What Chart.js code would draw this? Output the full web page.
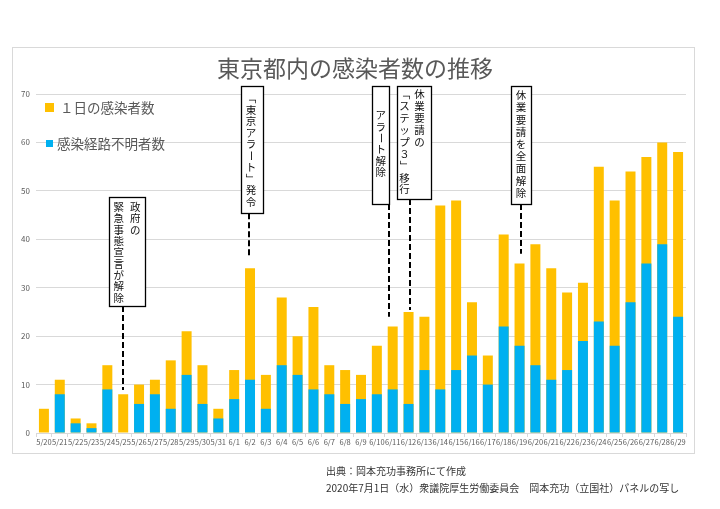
<!DOCTYPE html>
<html>
<head>
<meta charset="utf-8">
<script src="https://cdn.jsdelivr.net/npm/chart.js@4/dist/chart.umd.min.js"></script>
<style>
  body { margin: 0; background: #fff; }
  #wrap { width: 720px; height: 509px; }
</style>
</head>
<body>
<div id="wrap"><canvas id="chart" width="720" height="509"></canvas></div>
<script>
// dates 5/20 - 6/29
const dates = [
  "5/20", "5/21", "5/22", "5/23", "5/24", "5/25", "5/26", "5/27", "5/28", "5/29", "5/30", "5/31",
  "6/1", "6/2", "6/3", "6/4", "6/5", "6/6", "6/7", "6/8", "6/9", "6/10", "6/11", "6/12", "6/13",
  "6/14", "6/15", "6/16", "6/17", "6/18", "6/19", "6/20", "6/21", "6/22", "6/23", "6/24", "6/25",
  "6/26", "6/27", "6/28", "6/29"
];
// 1日の感染者数
const dailyCases = [
  5, 11, 3, 2, 14, 8, 10, 11, 15, 21, 14, 5,
  13, 34, 12, 28, 20, 26, 14, 13, 12, 18, 22, 25, 24,
  47, 48, 27, 16, 41, 35, 39, 34, 29, 31, 55, 48,
  54, 57, 60, 58
];
// 感染経路不明者数
const unknownRoute = [
  0, 8, 2, 1, 9, 0, 6, 8, 5, 12, 6, 3,
  7, 11, 5, 14, 12, 9, 8, 6, 7, 8, 9, 6, 13,
  9, 13, 16, 10, 22, 18, 14, 11, 13, 19, 23, 18,
  27, 35, 39, 24
];
const yTicks = [0, 10, 20, 30, 40, 50, 60, 70];

const seriesNames = ["１日の感染者数", "感染経路不明者数"];
const titleText = "東京都内の感染者数の推移";
const sourceLines = [
  "出典：岡本充功事務所にて作成",
  "2020年7月1日（水）衆議院厚生労働委員会　岡本充功（立国社）パネルの写し"
];

// callouts: text columns are listed right to left
const notes = [
  { at: "5/25", cols: ["政府の", "緊急事態宣言が解除"] },
  { at: "6/2", cols: ["「東京アラート」発令"] },
  { at: "6/11", cols: ["アラート解除"] },
  { at: "6/12", cols: ["休業要請の", "「ステップ３」移行"] },
  { at: "6/19", cols: ["休業要請を全面解除"] }
];
// box geometry for each callout (px offsets from bar centre, y in axis units)
const noteLayout = [
  { box: [-14, 22], top: 48.7, bottom: 26.2, colX: [12, -4.5], textTop: 10, pitch: 11.3, lineX: 0, lineEnd: 8.9 },
  { box: [-9, 13], top: 71.6, bottom: 45.4, colX: [1], textTop: 12, pitch: 11.5, lineX: -1, lineEnd: 36.1 },
  { box: [-20.5, -3.5], top: 71.6, bottom: 47.3, colX: [-12], textTop: 29, pitch: 11.4, lineX: -4, lineEnd: 24 },
  { box: [-12, 22], top: 71.6, bottom: 48.3, colX: [11, -4], textTop: 8, pitch: 11.9, lineX: 1, lineEnd: 25.4 },
  { box: [-8.5, 11.5], top: 71.6, bottom: 47.3, colX: [1.5], textTop: 9, pitch: 12.2, lineX: 1.5, lineEnd: 37 }
];

const ORANGE = "#FFC000";
const BLUE = "#00B0F0";
const GREY = "#595959";
const FONT = "'Noto Sans CJK JP', 'Noto Sans', sans-serif";

function drawVertical(ctx, text, x, y, pitch) {
  for (const ch of text) {
    if ("ー「」".includes(ch)) {
      ctx.save();
      ctx.translate(x, y);
      ctx.rotate(Math.PI / 2);
      ctx.fillText(ch, 0, 0);
      ctx.restore();
    } else {
      ctx.fillText(ch, x, y);
    }
    y += pitch;
  }
}

const decor = {
  id: "decor",
  beforeDraw(chart) {
    const ctx = chart.ctx;
    ctx.save();
    ctx.fillStyle = "#fff";
    ctx.fillRect(0, 0, chart.width, chart.height);
    ctx.strokeStyle = "#d9d9d9";
    ctx.lineWidth = 1;
    ctx.strokeRect(12.5, 47.5, 682, 406);
    ctx.restore();
  },
  afterDraw(chart) {
    const ctx = chart.ctx;
    const xs = chart.scales.x, ys = chart.scales.y;
    ctx.save();

    // title
    ctx.fillStyle = GREY;
    ctx.font = "23px " + FONT;
    ctx.textAlign = "center";
    ctx.textBaseline = "middle";
    ctx.fillText(titleText, 355, 68);

    // legend
    ctx.textAlign = "left";
    ctx.font = "13.5px " + FONT;
    ctx.fillStyle = ORANGE;
    ctx.fillRect(45, 103, 9, 9);
    ctx.fillStyle = GREY;
    ctx.fillText(seriesNames[0], 60, 108);
    ctx.fillStyle = BLUE;
    ctx.fillRect(46, 140, 7, 7);
    ctx.fillStyle = GREY;
    ctx.fillText(seriesNames[1], 57, 144);

    // callouts
    notes.forEach((n, i) => {
      const L = noteLayout[i];
      const cx = xs.getPixelForValue(dates.indexOf(n.at));
      const top = ys.getPixelForValue(L.top);
      const bot = ys.getPixelForValue(L.bottom);
      const lx = Math.round(cx + L.lineX);
      ctx.setLineDash([6, 3]);
      ctx.strokeStyle = "#000";
      ctx.lineWidth = 2;
      ctx.beginPath();
      ctx.moveTo(lx, bot);
      ctx.lineTo(lx, ys.getPixelForValue(L.lineEnd));
      ctx.stroke();
      ctx.setLineDash([]);
      const x0 = Math.round(cx + L.box[0]) + 0.5, x1 = Math.round(cx + L.box[1]) + 0.5;
      ctx.fillStyle = "#fff";
      ctx.fillRect(x0, top, x1 - x0, bot - top);
      ctx.lineWidth = 1.3;
      ctx.strokeRect(x0, Math.round(top) + 0.5, x1 - x0, Math.round(bot - top));
      ctx.fillStyle = "#111";
      ctx.font = "10.5px " + FONT;
      ctx.textAlign = "center";
      ctx.textBaseline = "middle";
      n.cols.forEach((col, k) => {
        drawVertical(ctx, col, cx + L.colX[k], top + L.textTop, L.pitch);
      });
    });

    // source note
    ctx.fillStyle = "#333";
    ctx.font = "10px " + FONT;
    ctx.textAlign = "left";
    ctx.textBaseline = "middle";
    ctx.fillText(sourceLines[0], 326, 471);
    ctx.fillText(sourceLines[1], 326, 488);
    ctx.restore();
  }
};

new Chart(document.getElementById("chart"), {
  type: "bar",
  data: {
    labels: dates,
    datasets: [
      {
        label: seriesNames[0],
        data: dailyCases,
        backgroundColor: ORANGE,
        grouped: false,
        order: 2
      },
      {
        label: seriesNames[1],
        data: unknownRoute,
        backgroundColor: BLUE,
        grouped: false,
        order: 1
      }
    ]
  },
  options: {
    responsive: false,
    animation: false,
    layout: { padding: { left: 10, right: 34, top: 94, bottom: 58 } },
    datasets: { bar: { barPercentage: 0.63, categoryPercentage: 1 } },
    plugins: {
      legend: { display: false },
      title: { display: false },
      tooltip: { enabled: false }
    },
    scales: {
      x: {
        afterFit: (s) => { s.height = 18; },
        grid: { drawOnChartArea: false, color: "#d9d9d9", tickLength: 4 },
        border: { color: "#d9d9d9" },
        ticks: {
          color: GREY,
          font: { size: 7.5, family: FONT },
          maxRotation: 0,
          minRotation: 0,
          autoSkip: false,
          padding: 1
        }
      },
      y: {
        min: 0,
        max: 70,
        afterFit: (s) => { s.width = 26; },
        afterBuildTicks: (s) => { s.ticks = yTicks.map(v => ({ value: v })); },
        grid: { color: "#d9d9d9", drawTicks: false },
        border: { display: false },
        ticks: {
          color: GREY,
          font: { size: 8, family: FONT },
          padding: 6
        }
      }
    }
  },
  plugins: [decor]
});
</script>
</body>
</html>
